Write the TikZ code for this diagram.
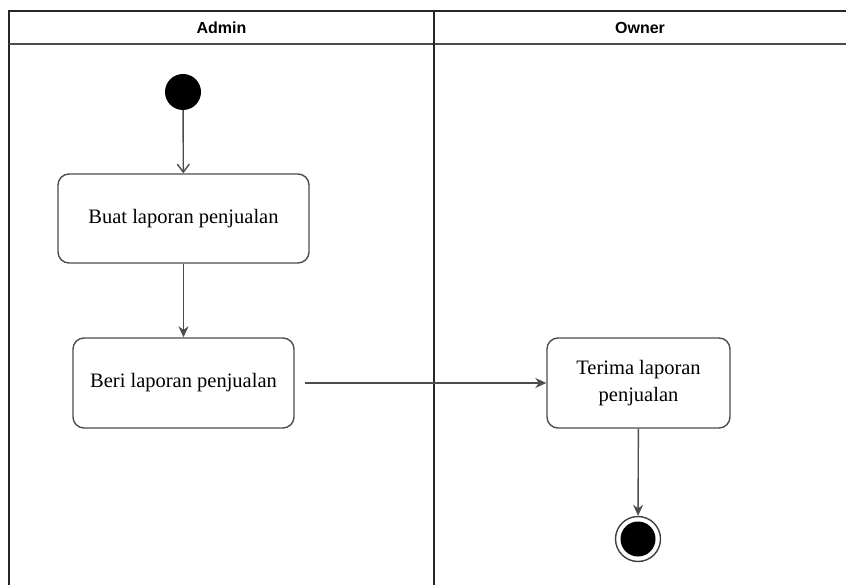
\documentclass[tikz,border=0pt]{standalone}
\usepackage{fontspec}
\setmainfont{Liberation Serif}
\newfontfamily\hdrfont{Liberation Sans}
\usetikzlibrary{arrows.meta}
\begin{document}
\begin{tikzpicture}[x=1pt,y=-1pt,
  lane/.style={draw=black!85,line width=1.6pt},
  act/.style={draw=black!70,line width=1.4pt,rounded corners=11pt,align=center,font=\fontsize{20.5}{27}\selectfont},
  flow/.style={draw=black!70,line width=1.4pt,-{Stealth[length=11pt,width=10pt]}},
  openflow/.style={draw=black!70,line width=1.4pt,-{Straight Barb[length=8pt,width=12pt]}},
  hdr/.style={font=\hdrfont\bfseries\fontsize{16}{19}\selectfont}]
\useasboundingbox (0,0) rectangle (846,585);
% swimlanes
\draw[lane] (9,585) -- (9,11) -- (846,11);
\draw[lane,draw=black!70] (9,44) -- (846,44);
\draw[lane] (434,11) -- (434,585);
\node[hdr] (hA) at (221.5,28) {Admin};
\node[hdr] (hO) at (640,28) {Owner};
% nodes
\node[circle,fill=black,minimum size=36pt,inner sep=0pt] (start) at (183,92) {};
\node[act,minimum width=251pt,minimum height=89pt] (b1) at (183.5,218.5) {Buat laporan penjualan};
\node[act,minimum width=221pt,minimum height=90pt] (b2) at (183.5,383) {Beri laporan penjualan};
\node[act,minimum width=183pt,minimum height=90pt] (b3) at (638.5,383) {Terima laporan\\penjualan};
\node[circle,draw=black!75,line width=1.4pt,fill=white,minimum size=45pt,inner sep=0pt] (end) at (638,539) {};
\node[circle,fill=black,minimum size=35pt,inner sep=0pt] (endin) at (638,539) {};
\coordinate (b2r) at (305,383);
% flows
\draw[openflow] (start) -- (b1);
\draw[flow] (b1) -- (b2);
\draw[flow] (b2r) -- (b3);
\draw[flow] (b3) -- (end);
\end{tikzpicture}
\end{document}
